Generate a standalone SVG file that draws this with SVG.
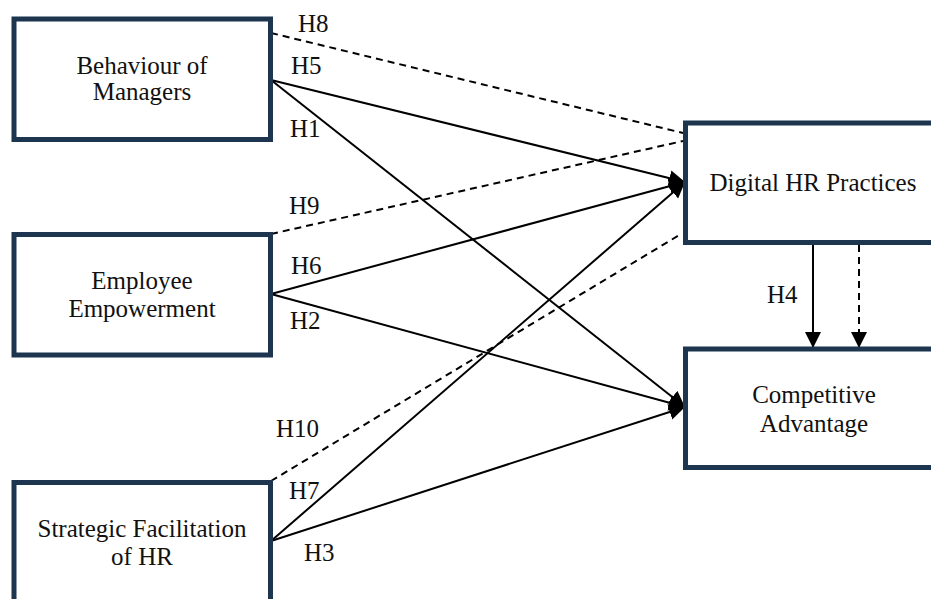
<svg xmlns="http://www.w3.org/2000/svg" width="931" height="599" viewBox="0 0 931 599">
<defs>
<style>
.box{fill:#fff;stroke:#1e3550;stroke-width:5;}
.t{font-family:"Liberation Serif","Times New Roman",serif;font-size:25px;fill:#111;}
.c{text-anchor:middle;}
.s{stroke:#000;stroke-width:2;fill:none;}
.d{stroke:#000;stroke-width:2;fill:none;stroke-dasharray:7 5;}
</style>
<marker id="ah" markerUnits="userSpaceOnUse" markerWidth="17" markerHeight="17" refX="16" refY="8" orient="auto">
<path d="M0,0 L16,8 L0,16 z" fill="#000"/>
</marker>
</defs>
<rect width="931" height="599" fill="#fff"/>
<g id="connectors">
<line class="d" x1="271" y1="33" x2="683" y2="133"/>
<line class="d" x1="271" y1="234" x2="683" y2="141"/>
<line class="d" x1="271" y1="481" x2="681" y2="234"/>
<line class="s" x1="271" y1="80" x2="685" y2="182" marker-end="url(#ah)"/>
<line class="s" x1="271" y1="294" x2="685" y2="182" marker-end="url(#ah)"/>
<line class="s" x1="271" y1="541" x2="685" y2="182" marker-end="url(#ah)"/>
<line class="s" x1="271" y1="80" x2="685" y2="407" marker-end="url(#ah)"/>
<line class="s" x1="271" y1="294" x2="685" y2="407" marker-end="url(#ah)"/>
<line class="s" x1="271" y1="541" x2="685" y2="407" marker-end="url(#ah)"/>
<line class="s" x1="813" y1="245" x2="813" y2="348" marker-end="url(#ah)"/>
<line class="d" x1="859" y1="245" x2="859" y2="348" marker-end="url(#ah)"/>
<text class="t" x="298" y="32">H8</text>
<text class="t" x="291" y="74">H5</text>
<text class="t" x="290" y="137">H1</text>
<text class="t" x="289" y="214">H9</text>
<text class="t" x="291" y="274">H6</text>
<text class="t" x="290" y="329">H2</text>
<text class="t" x="276" y="437">H10</text>
<text class="t" x="289" y="499">H7</text>
<text class="t" x="304" y="561">H3</text>
<text class="t" x="767" y="303">H4</text>
</g>
<g id="node-behaviour">
<rect class="box" x="14" y="19" width="256.5" height="120.5"/>
<text class="t c" x="142" y="74">Behaviour of</text>
<text class="t c" x="142" y="100">Managers</text>
</g>
<g id="node-empowerment">
<rect class="box" x="14" y="234.5" width="256.5" height="120.5"/>
<text class="t c" x="142" y="289">Employee</text>
<text class="t c" x="142" y="317">Empowerment</text>
</g>
<g id="node-strategic">
<rect class="box" x="14" y="482.5" width="256.5" height="130"/>
<text class="t c" x="142" y="537">Strategic Facilitation</text>
<text class="t c" x="142" y="565">of HR</text>
</g>
<g id="node-digital">
<rect class="box" x="685.5" y="123" width="260" height="119.5"/>
<text class="t c" x="813" y="191">Digital HR Practices</text>
</g>
<g id="node-competitive">
<rect class="box" x="685.5" y="349" width="260" height="118.5"/>
<text class="t c" x="814" y="403">Competitive</text>
<text class="t c" x="814" y="432">Advantage</text>
</g>
</svg>
